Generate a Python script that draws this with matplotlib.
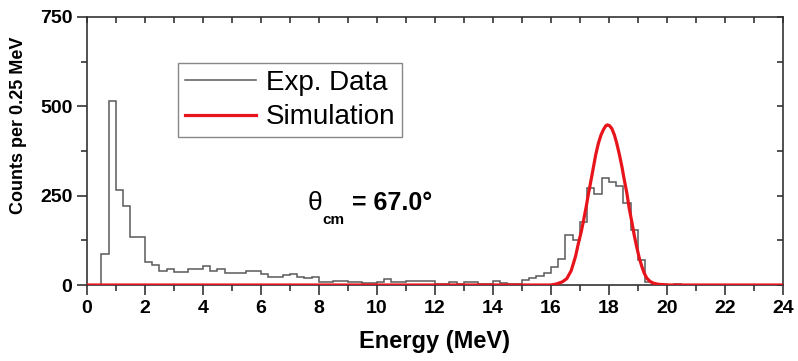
import numpy as np
import matplotlib
matplotlib.use('Agg')
import matplotlib.pyplot as plt
from matplotlib.ticker import MultipleLocator

plt.rcParams['font.family'] = ['Liberation Sans', 'DejaVu Sans']

# experimental histogram, 0.25 MeV bins starting at 0.5 MeV
bin_start = 0.5
bin_width = 0.25
exp_counts = [88, 514, 265, 220, 133, 133, 65, 57, 40, 44,
              36, 37, 44, 44, 53, 38, 44, 35, 33, 33,
              40, 40, 31, 22, 22, 28, 31, 23, 19, 22,
              9, 9, 12, 12, 9, 9, 5, 6, 8, 17,
              9, 9, 12, 12, 12, 12, 3, 3, 8, 3,
              8, 8, 4, 4, 10, 6, 2, 4, 14, 19,
              26, 35, 51, 73, 140, 126, 177, 271, 254, 299,
              289, 277, 229, 154, 70, 9, 3, 1, 0, 3]

# simulation curve
sim_energy = [0.0, 16.0, 16.2, 16.4, 16.55, 16.7, 16.85, 16.95, 17.05, 17.13, 17.22, 17.3,
              17.4, 17.47, 17.55, 17.64, 17.73, 17.82, 17.9, 17.95, 18.02, 18.1, 18.19,
              18.27, 18.36, 18.45, 18.53, 18.62, 18.7, 18.8, 18.88, 18.97, 19.05, 19.14,
              19.22, 19.31, 19.42, 19.54, 19.7, 19.9, 20.1, 24.0]
sim_counts = [0, 0, 3, 9, 18, 40, 80, 117, 150, 182, 220, 257,
              300, 331, 366, 397, 420, 436, 446, 448, 446, 438, 420,
              397, 366, 331, 295, 257, 215, 173, 137, 103, 75, 51,
              33, 19, 10, 5, 2, 1, 0, 0]

theta_angle = '67.0°'

edges = bin_start + bin_width * np.arange(len(exp_counts) + 1)

fig = plt.figure(figsize=(7.98, 3.61), dpi=100)
ax = fig.add_axes([0.109, 0.2105, 0.872, 0.7425])

ax.stairs(exp_counts, edges, baseline=0, color='#5a5a5a', lw=1.1, label='Exp. Data', zorder=2)
ax.plot(sim_energy, sim_counts, color='#e8141c', lw=2.3, label='Simulation', zorder=3)

ax.set_xlim(0, 24)
ax.set_ylim(0, 750)
ax.xaxis.set_major_locator(MultipleLocator(2))
ax.xaxis.set_minor_locator(MultipleLocator(1))
ax.yaxis.set_major_locator(MultipleLocator(250))
ax.yaxis.set_minor_locator(MultipleLocator(125))

ax.tick_params(which='both', direction='out', width=1.2, colors='#333333', labelcolor='black')
ax.tick_params(which='major', length=7, labelsize=14)
ax.tick_params(which='minor', length=4)
ax.tick_params(which='both', top=True, right=True)
for lab in ax.get_xticklabels() + ax.get_yticklabels():
    lab.set_fontweight('bold')
# top / right ticks point inward
for t in ax.xaxis.get_major_ticks() + ax.xaxis.get_minor_ticks():
    t.tick2line.set_marker(3)  # TICKDOWN
    t.tick2line.set_markersize(4)
for t in ax.yaxis.get_major_ticks() + ax.yaxis.get_minor_ticks():
    t.tick2line.set_marker(0)  # TICKLEFT
    t.tick2line.set_markersize(4)
for s in ax.spines.values():
    s.set_linewidth(1.2)
    s.set_color('#333333')

ax.set_xlabel('Energy (MeV)', fontsize=17, fontweight='bold', labelpad=10)
ax.set_ylabel('Counts per 0.25 MeV', fontsize=13, fontweight='bold')
ax.yaxis.set_label_coords(-0.086, 0.597)

# theta_cm label: upright theta, bold subscript, bold value
ax.annotate('θ', (7.6, 210), fontsize=19)
ax.annotate('cm', (7.6, 210), xytext=(10.5, -10), textcoords='offset points',
            fontsize=11, fontweight='bold')
ax.annotate('= ' + theta_angle, (7.6, 210), xytext=(32.5, 0), textcoords='offset points',
            fontsize=18, fontweight='bold')

leg = ax.legend(loc='upper left', bbox_to_anchor=(0.131, 0.828), borderaxespad=0,
                fontsize=20, handlelength=2.55, handletextpad=0.35, labelspacing=0.3,
                borderpad=0.25, fancybox=False, edgecolor='#888888', framealpha=1)
leg.get_frame().set_linewidth(1.0)

fig.savefig('out.png', dpi=100)
